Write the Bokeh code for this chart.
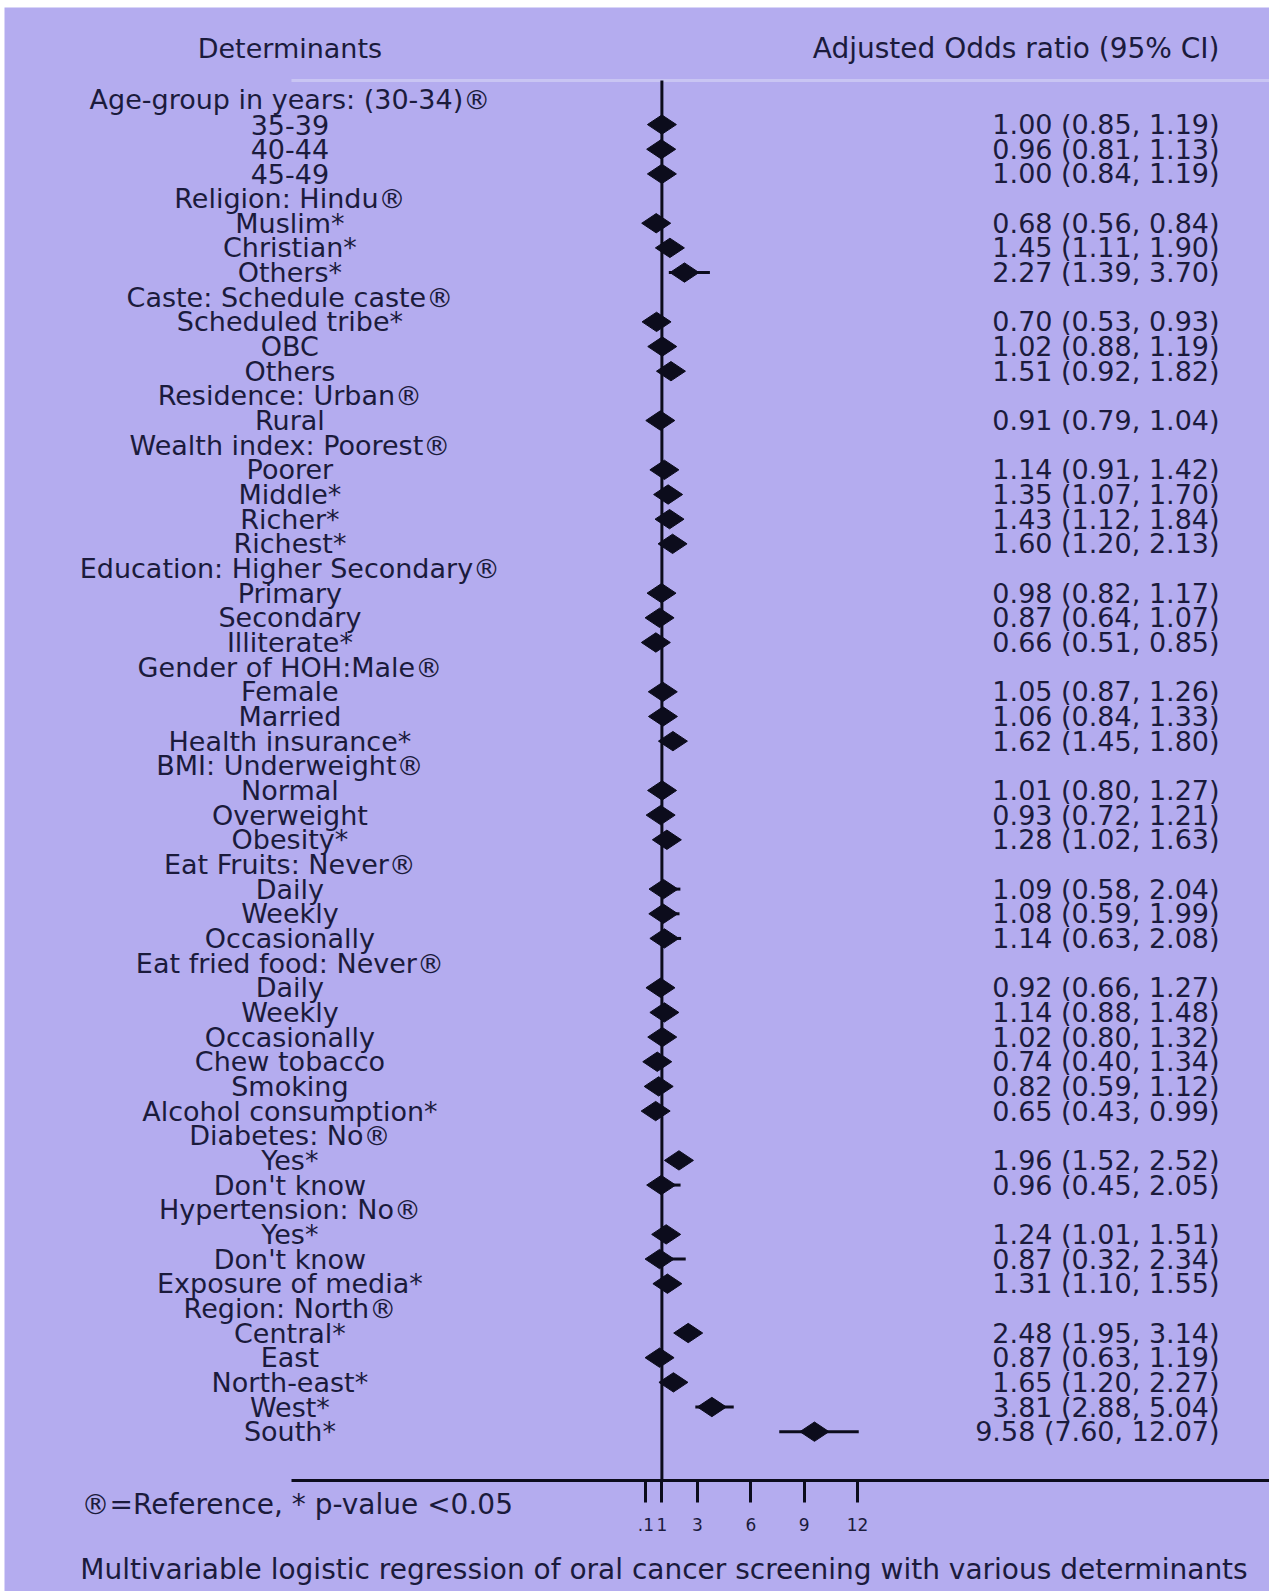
import math
from bokeh.plotting import figure
from bokeh.models import ColumnDataSource, Range1d, LinearAxis, FixedTicker
from bokeh.core.properties import value
from bokeh.embed import file_html
from bokeh.resources import INLINE

# ---------------- data ----------------
labels = [
    "Age-group in years: (30-34)®", "35-39", "40-44", "45-49",
    "Religion: Hindu®", "Muslim*", "Christian*", "Others*",
    "Caste: Schedule caste®", "Scheduled tribe*", "OBC", "Others",
    "Residence: Urban®", "Rural",
    "Wealth index: Poorest®", "Poorer", "Middle*", "Richer*", "Richest*",
    "Education: Higher Secondary®", "Primary", "Secondary", "Illiterate*",
    "Gender of HOH:Male®", "Female", "Married", "Health insurance*",
    "BMI: Underweight®", "Normal", "Overweight", "Obesity*",
    "Eat Fruits: Never®", "Daily", "Weekly", "Occasionally",
    "Eat fried food: Never®", "Daily", "Weekly", "Occasionally",
    "Chew tobacco", "Smoking", "Alcohol consumption*",
    "Diabetes: No®", "Yes*", "Don't know",
    "Hypertension: No®", "Yes*", "Don't know", "Exposure of media*",
    "Region: North®", "Central*", "East", "North-east*", "West*", "South*",
]
odds_ratio = [
    None, 1.00, 0.96, 1.00,
    None, 0.68, 1.45, 2.27,
    None, 0.70, 1.02, 1.51,
    None, 0.91,
    None, 1.14, 1.35, 1.43, 1.60,
    None, 0.98, 0.87, 0.66,
    None, 1.05, 1.06, 1.62,
    None, 1.01, 0.93, 1.28,
    None, 1.09, 1.08, 1.14,
    None, 0.92, 1.14, 1.02,
    0.74, 0.82, 0.65,
    None, 1.96, 0.96,
    None, 1.24, 0.87, 1.31,
    None, 2.48, 0.87, 1.65, 3.81, 9.58,
]
ci_lower = [
    None, 0.85, 0.81, 0.84,
    None, 0.56, 1.11, 1.39,
    None, 0.53, 0.88, 0.92,
    None, 0.79,
    None, 0.91, 1.07, 1.12, 1.20,
    None, 0.82, 0.64, 0.51,
    None, 0.87, 0.84, 1.45,
    None, 0.80, 0.72, 1.02,
    None, 0.58, 0.59, 0.63,
    None, 0.66, 0.88, 0.80,
    0.40, 0.59, 0.43,
    None, 1.52, 0.45,
    None, 1.01, 0.32, 1.10,
    None, 1.95, 0.63, 1.20, 2.88, 7.60,
]
ci_upper = [
    None, 1.19, 1.13, 1.19,
    None, 0.84, 1.90, 3.70,
    None, 0.93, 1.19, 1.82,
    None, 1.04,
    None, 1.42, 1.70, 1.84, 2.13,
    None, 1.17, 1.07, 0.85,
    None, 1.26, 1.33, 1.80,
    None, 1.27, 1.21, 1.63,
    None, 2.04, 1.99, 2.08,
    None, 1.27, 1.48, 1.32,
    1.34, 1.12, 0.99,
    None, 2.52, 2.05,
    None, 1.51, 2.34, 1.55,
    None, 3.14, 1.19, 2.27, 5.04, 12.07,
]
tick_values = [0.1, 1, 3, 6, 9, 12]
tick_labels = [".1", "1", "3", "6", "9", "12"]

header_left = "Determinants"
header_right = "Adjusted Odds ratio (95% CI)"
footnote = "®=Reference, * p-value <0.05"
caption = "Multivariable logistic regression of oral cancer screening with various determinants"

# ---------------- styling ----------------
BG = "#b4acef"
TXT = "#1b1b3c"
INK = "#0c0c1c"
FAINT = "#c9c5f3"
FONT_NAME = "DejaVu Sans"
FONT = value(FONT_NAME)
FS = "27px"
FS_BIG = "28px"

rows = list(range(1, len(labels) + 1))
est_rows = [r for r, v in zip(rows, odds_ratio) if v is not None]
est = [v for v in odds_ratio if v is not None]
lo = [v for v in ci_lower if v is not None]
hi = [v for v in ci_upper if v is not None]
est_text = ["%.2f (%.2f, %.2f)" % (a, b, c) for a, b, c in zip(est, lo, hi)]

lab_src = ColumnDataSource(dict(y=rows, text=labels))
est_src = ColumnDataSource(dict(y=est_rows, est=est, lo=lo, hi=hi, text=est_text))

X_LEFT, X_RIGHT = -35.97, 35.17
AX_START = -19.83
LABEL_X = -19.92
VALUE_X = 32.36
Y_BOTTOM, Y_TOP = 61.48, -2.747
AXIS_Y = 56.98
TOP_LINE = 0.213

p = figure(width=1265, height=1584,
           x_range=Range1d(X_LEFT, X_RIGHT), y_range=Range1d(Y_BOTTOM, Y_TOP),
           output_backend="svg", toolbar_location=None,
           x_axis_location=None, y_axis_location=None,
           min_border_left=0, min_border_right=0, min_border_top=0,
           min_border_bottom=0,
           background_fill_color=BG, border_fill_color=BG,
           outline_line_color=None)
p.margin = (7, 0, 0, 4)
p.grid.visible = False

axis = LinearAxis(ticker=FixedTicker(ticks=tick_values),
                  bounds=(AX_START, X_RIGHT),
                  fixed_location=AXIS_Y,
                  major_label_overrides={float(k): v for k, v in zip(tick_values, tick_labels)},
                  axis_line_color=INK, axis_line_width=3,
                  major_tick_line_color=INK, major_tick_line_width=3,
                  major_tick_in=0, major_tick_out=22,
                  minor_tick_line_color=None,
                  major_label_standoff=15,
                  major_label_text_font=FONT_NAME,
                  major_label_text_font_size="17px",
                  major_label_text_color=TXT)
p.add_layout(axis, "below")

# faint top rule and reference line at OR = 1
p.segment(x0=AX_START, x1=X_RIGHT, y0=TOP_LINE, y1=TOP_LINE,
          line_color=FAINT, line_width=3)
p.segment(x0=1, x1=1, y0=TOP_LINE, y1=AXIS_Y, line_color=INK, line_width=3)

# CI lines and point estimates
p.segment(x0="lo", x1="hi", y0="y", y1="y", source=est_src,
          line_color=INK, line_width=3)
p.scatter(x="est", y="y", source=est_src, marker="diamond", size=29,
          angle=math.pi / 2, fill_color=INK, line_color=INK)

# text columns
p.text(x=LABEL_X, y="y", text="text", source=lab_src,
       text_align="center", text_baseline="middle",
       text_font=FONT, text_font_size=FS, text_color=TXT)
p.text(x=VALUE_X, y="y", text="text", source=est_src,
       text_align="right", text_baseline="middle",
       text_font=FONT, text_font_size=FS, text_color=TXT)
p.text(x=[LABEL_X], y=[-1.084], text=[header_left],
       text_align="center", text_baseline="middle",
       text_font=FONT, text_font_size=FS, text_color=TXT)
p.text(x=[VALUE_X], y=[-1.084], text=[header_right],
       text_align="right", text_baseline="middle",
       text_font=FONT, text_font_size=FS_BIG, text_color=TXT)
p.text(x=[-31.64], y=[57.96], text=[footnote],
       text_align="left", text_baseline="middle",
       text_font=FONT, text_font_size=FS_BIG, text_color=TXT)
p.text(x=[1.12], y=[60.6], text=[caption],
       text_align="center", text_baseline="middle",
       text_font=FONT, text_font_size=FS_BIG, text_color=TXT)

open("out.html", "w").write(file_html(p, INLINE))
